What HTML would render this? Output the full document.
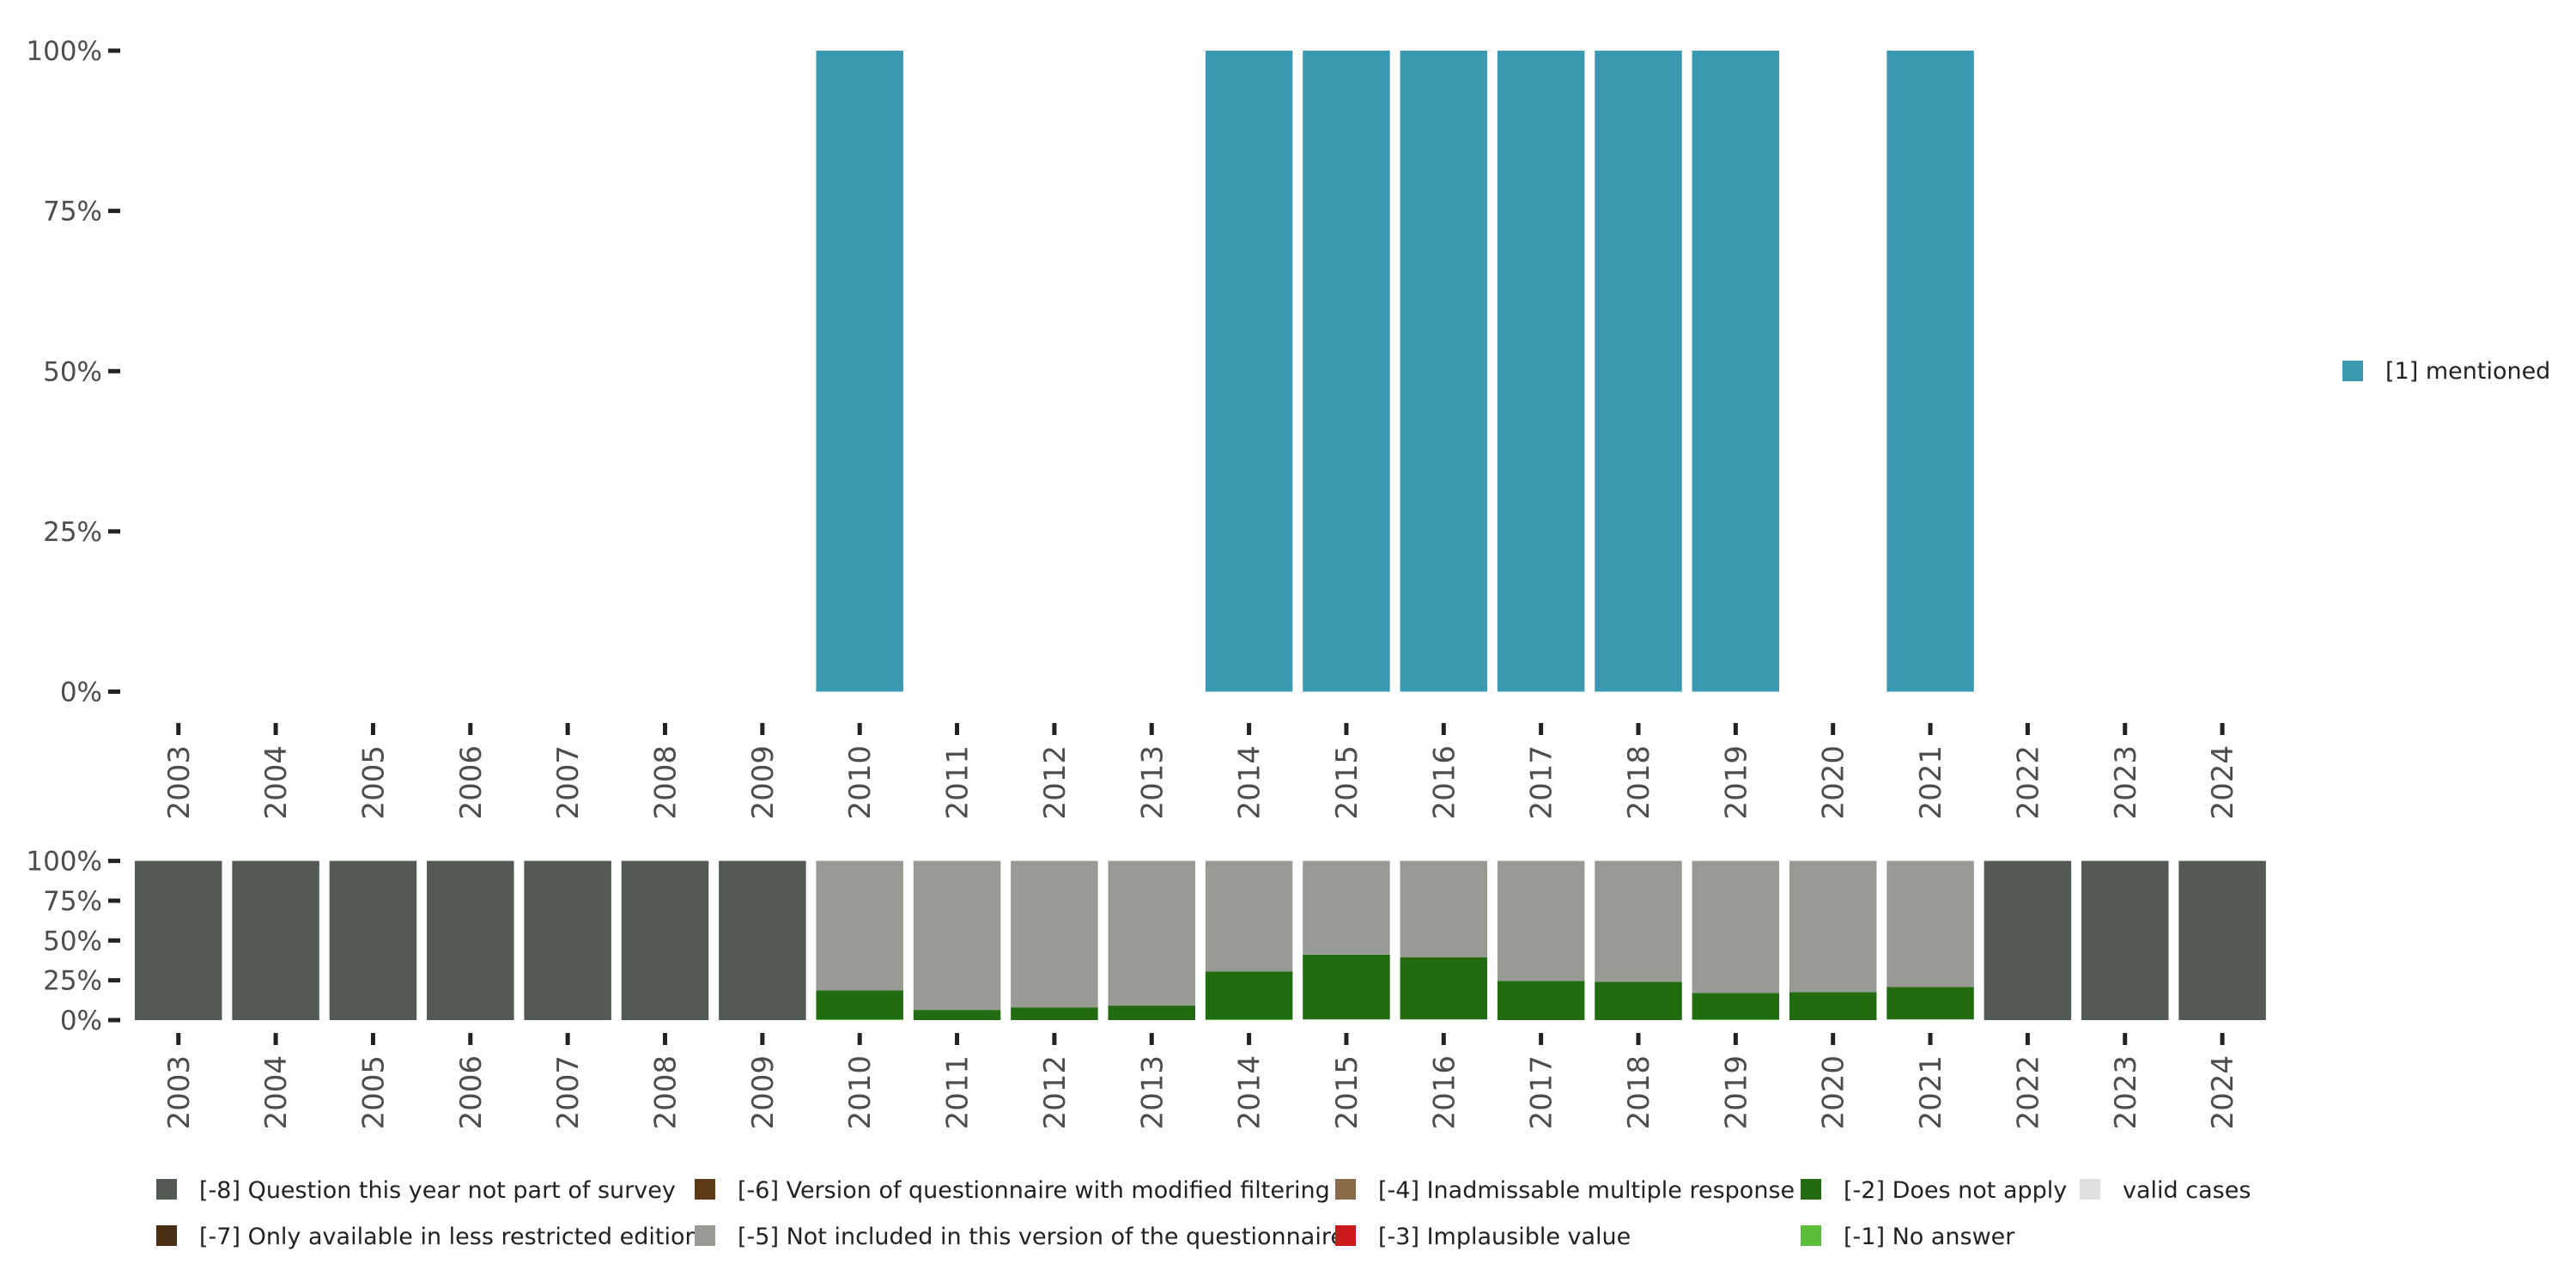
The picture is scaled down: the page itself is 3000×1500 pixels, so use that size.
<!DOCTYPE html>
<html><head><meta charset="utf-8"><style>
html,body{margin:0;padding:0;background:#fff;}
svg{display:block;font-family:"DejaVu Sans","Liberation Sans",sans-serif;}
</style></head><body>
<svg id="chart" width="3000" height="1500" viewBox="0 0 3000 1500"></svg>
<script>
const years=['2003','2004','2005','2006','2007','2008','2009','2010','2011','2012','2013','2014','2015','2016','2017','2018','2019','2020','2021','2022','2023','2024'];
const mentioned=[0,0,0,0,0,0,0,100,0,0,0,100,100,100,100,100,100,0,100,0,0,0];
const qNotPart=[100,100,100,100,100,100,100,0,0,0,0,0,0,0,0,0,0,0,0,100,100,100];
const doesNotApply=[0,0,0,0,0,0,0,18.2,6.4,8,9.1,30,40.6,39,24.6,24.1,16.6,17.6,20.3,0,0,0];
const noAnswer=[0,0,0,0,0,0,0,0.5,0,0,0,0.5,0,0,0,0,0.5,0,0,0,0,0];
const validCases=[0,0,0,0,0,0,0,0,0,0,0,0,0.5,0.5,0,0,0,0,0.5,0,0,0];
const yTicks=[0,25,50,75,100];
const NS='http://www.w3.org/2000/svg';
const svg=document.getElementById('chart');
function el(t,a,txt){const e=document.createElementNS(NS,t);for(const k in a)e.setAttribute(k,a[k]);if(txt!==undefined)e.textContent=txt;svg.appendChild(e);return e;}
const pitch=113.35,bw=101.5,x0=157;
function xL(i){return x0+i*pitch;}
function xC(i){return xL(i)+bw/2;}
function yTop(v){return 805.5-v/100*746.5;}
function yBot(v){return 1188-v/100*185.4;}
function axes(yf,prefix,tickY){
 yTicks.forEach(t=>{
  const y=yf(t);
  const tk=el('rect',{x:126,y:y-2.5,width:14,height:5,fill:'#222'});
  
  
  const l=el('text',{x:119,y:y+11,'text-anchor':'end','font-size':31,fill:'#4d4d4d','textLength':null});
  l.textContent=t+'%';
  l.removeAttribute('textLength');
  
  
 });
 years.forEach((yr,i)=>{
  const c=xC(i);
  const tk=el('rect',{x:c-2.5,y:tickY,width:5,height:14,fill:'#222'});
  
  
  const l=el('text',{x:0,y:0,transform:`translate(${c+12},${tickY+26}) rotate(-90)`,'text-anchor':'end','font-size':34,fill:'#4d4d4d'},yr);
  
  
 });
}
axes(yTop,'top',842);
axes(yBot,'bottom',1203);
years.forEach((yr,i)=>{
 if(mentioned[i]>0){
  const r=el('rect',{x:xL(i),y:yTop(mentioned[i]),width:bw,height:yTop(0)-yTop(mentioned[i]),fill:'#3b9ab2'});
  
  
 }
 const segs=[[validCases[i],'#e0e0e0','valid'],[noAnswer[i],'#5bbf3a','no-answer'],[doesNotApply[i],'#236b10','does-not-apply'],[qNotPart[i],'#535a53','not-part']];
 let acc=0;
 segs.forEach(s=>{
  if(s[0]>0){
   const r=el('rect',{x:xL(i),y:yBot(acc+s[0]),width:bw,height:yBot(acc)-yBot(acc+s[0]),fill:s[1]});
   
   
   acc+=s[0];
  }
 });
 const rest=100-acc;
 if(rest>0.01){
  const r=el('rect',{x:xL(i),y:yBot(100),width:bw,height:yBot(acc)-yBot(100),fill:'#979b94'});
  
  
 }
});
const ls=el('rect',{x:2728,y:420,width:24,height:24,fill:'#3b9ab2'});


const lt=el('text',{x:2778,y:441,'font-size':27,fill:'#222'},'[1] mentioned');


const legend=[
 [182,1385,'#535a53','[-8] Question this year not part of survey'],
 [182,1439,'#4b2f14','[-7] Only available in less restricted edition'],
 [809,1385,'#5c3a14','[-6] Version of questionnaire with modified filtering'],
 [809,1439,'#979b94','[-5] Not included in this version of the questionnaire'],
 [1555,1385,'#8b6a4a','[-4] Inadmissable multiple response'],
 [1555,1439,'#cc1a1a','[-3] Implausible value'],
 [2097,1385,'#236b10','[-2] Does not apply'],
 [2097,1439,'#5bbf3a','[-1] No answer'],
 [2422,1385,'#e0e0e0','valid cases']
];
legend.forEach(l=>{
 const s=el('rect',{x:l[0],y:l[1]-12,width:24,height:24,fill:l[2]});
 
 
 const t=el('text',{x:l[0]+50,y:l[1]+10,'font-size':27,fill:'#222'},l[3]);
 
 
});
</script>
</body></html>
